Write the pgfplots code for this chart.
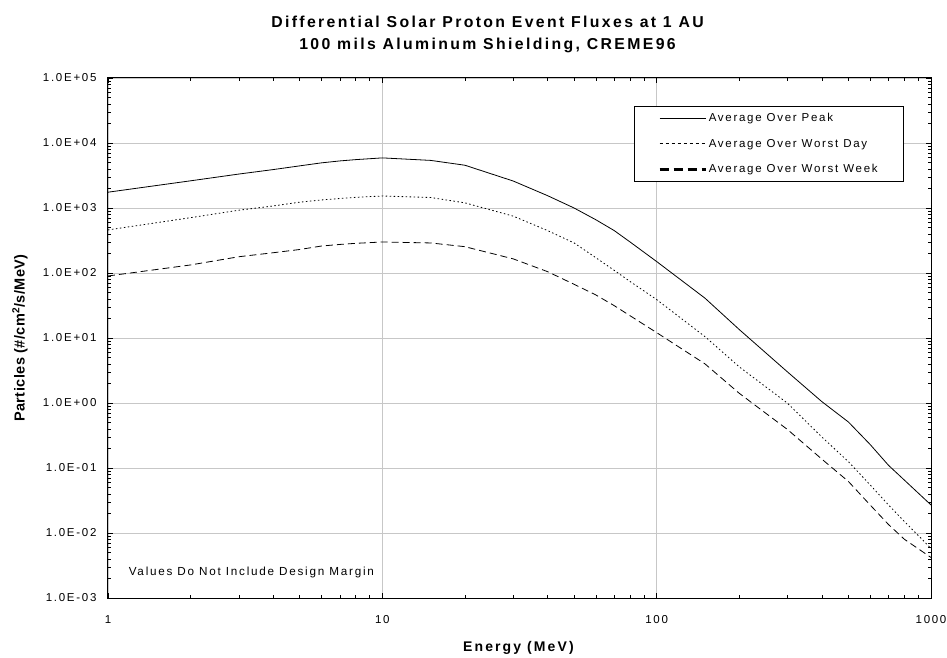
\documentclass[border=0pt]{standalone}
\usepackage{fontspec}
\setmainfont{Liberation Sans}[LetterSpace=15]
\newfontfamily\plainfont{Liberation Sans}[LetterSpace=3]
\usepackage{pgfplots}
\pgfplotsset{compat=1.18}
\begin{document}
\begin{tikzpicture}
\begin{axis}[
  xmode=log, ymode=log,
  scale only axis, width=823pt, height=520pt,
  xmin=1, xmax=1000, ymin=1e-3, ymax=1e5,
  xtick={1,10,100,1000}, xticklabels={1,10,100,1000},
  ytick={1e-3,1e-2,1e-1,1,10,100,1000,10000,100000},
  yticklabels={1.0E-03,1.0E-02,1.0E-01,1.0E+00,1.0E+01,1.0E+02,1.0E+03,1.0E+04,1.0E+05},
  grid=major, major grid style={draw=black!22, line width=0.9pt},
  axis line style={line width=1pt},
  tick align=inside, major tick length=5pt, minor tick length=3pt,
  tick style={black, line width=0.6pt},
  xticklabel style={font=\fontsize{11.5}{12}\selectfont, yshift=-14pt},
  yticklabel style={font=\fontsize{11.5}{12}\selectfont, xshift=-8pt},
  xlabel={\textbf{Energy (MeV)}},
  ylabel={\plainfont\bfseries Particles (\#/cm\textsuperscript{2}/s/MeV)},
  xlabel style={font=\fontsize{14}{16}\selectfont, at={(axis description cs:0.5,0)}, anchor=center, yshift=-50pt},
  ylabel style={font=\fontsize{14.5}{16}\selectfont, at={(axis description cs:-0.107,0.5)}, anchor=center},
  legend style={at={(1,1)}, xshift=-27pt, yshift=-28pt, anchor=north east, draw=black, line width=0.6pt,
    font=\fontsize{11.5}{13}\selectfont, row sep=12pt, inner xsep=24pt, inner ysep=5pt},
  legend cell align=left,
  legend image code/.code={\draw[#1] (0pt,0pt) -- (46pt,0pt);},
]
\addplot[black, line width=0.8pt] coordinates {
(1,1750) (2,2620) (3,3330) (4,3900) (5,4450) (6,4950) (7,5300) (8,5550) (10,5900)
(15,5400) (20,4550) (30,2600) (40,1550) (50,1000) (60,660) (70,450) (80,300)
(100,150) (150,41) (200,13.5) (300,3.0) (400,1.05) (500,0.51) (600,0.23)
(700,0.11) (800,0.065) (1000,0.027)};
\addlegendentry{Average Over Peak}
\addplot[black, line width=0.8pt, dash pattern=on 1.5pt off 2.5pt, legend image post style={dash pattern=on 3pt off 3pt}] coordinates {
(1,460) (2,710) (3,925) (4,1075) (5,1230) (6,1330) (7,1400) (8,1460) (10,1530)
(15,1450) (20,1200) (30,750) (40,450) (50,290) (60,172) (70,110) (80,74)
(100,39) (150,10.5) (200,3.6) (300,0.99) (400,0.30) (500,0.125) (600,0.055)
(700,0.027) (800,0.015) (1000,0.0058)};
\addlegendentry{Average Over Worst Day}
\addplot[black, line width=0.8pt, dash pattern=on 7pt off 4pt, legend image post style={line width=2.2pt, dash pattern=on 9pt off 5pt}] coordinates {
(1,90) (2,133) (3,178) (4,205) (5,230) (6,260) (7,275) (8,286) (10,300)
(15,290) (20,254) (30,165) (40,105) (50,67) (60,46) (70,31.5) (80,22)
(100,12.1) (150,4.0) (200,1.41) (300,0.39) (400,0.137) (500,0.062) (600,0.027)
(700,0.0135) (800,0.0080) (1000,0.0042)};
\addlegendentry{Average Over Worst Week}
\node[anchor=west, font=\fontsize{11.7}{12}\selectfont] at (rel axis cs:0.021,0.05) {Values Do Not Include Design Margin};
\end{axis}
\node[anchor=center, align=center, font=\bfseries\fontsize{15.8}{22}\selectfont] at ([xshift=-32pt,yshift=44pt]current axis.north) {Differential Solar Proton Event Fluxes at 1 AU\\100 mils Aluminum Shielding, CREME96};
\pgfresetboundingbox
\path ([shift={(-108pt,-60pt)}]current axis.south west) rectangle ([shift={(16pt,78pt)}]current axis.north east);
\end{tikzpicture}
\end{document}
